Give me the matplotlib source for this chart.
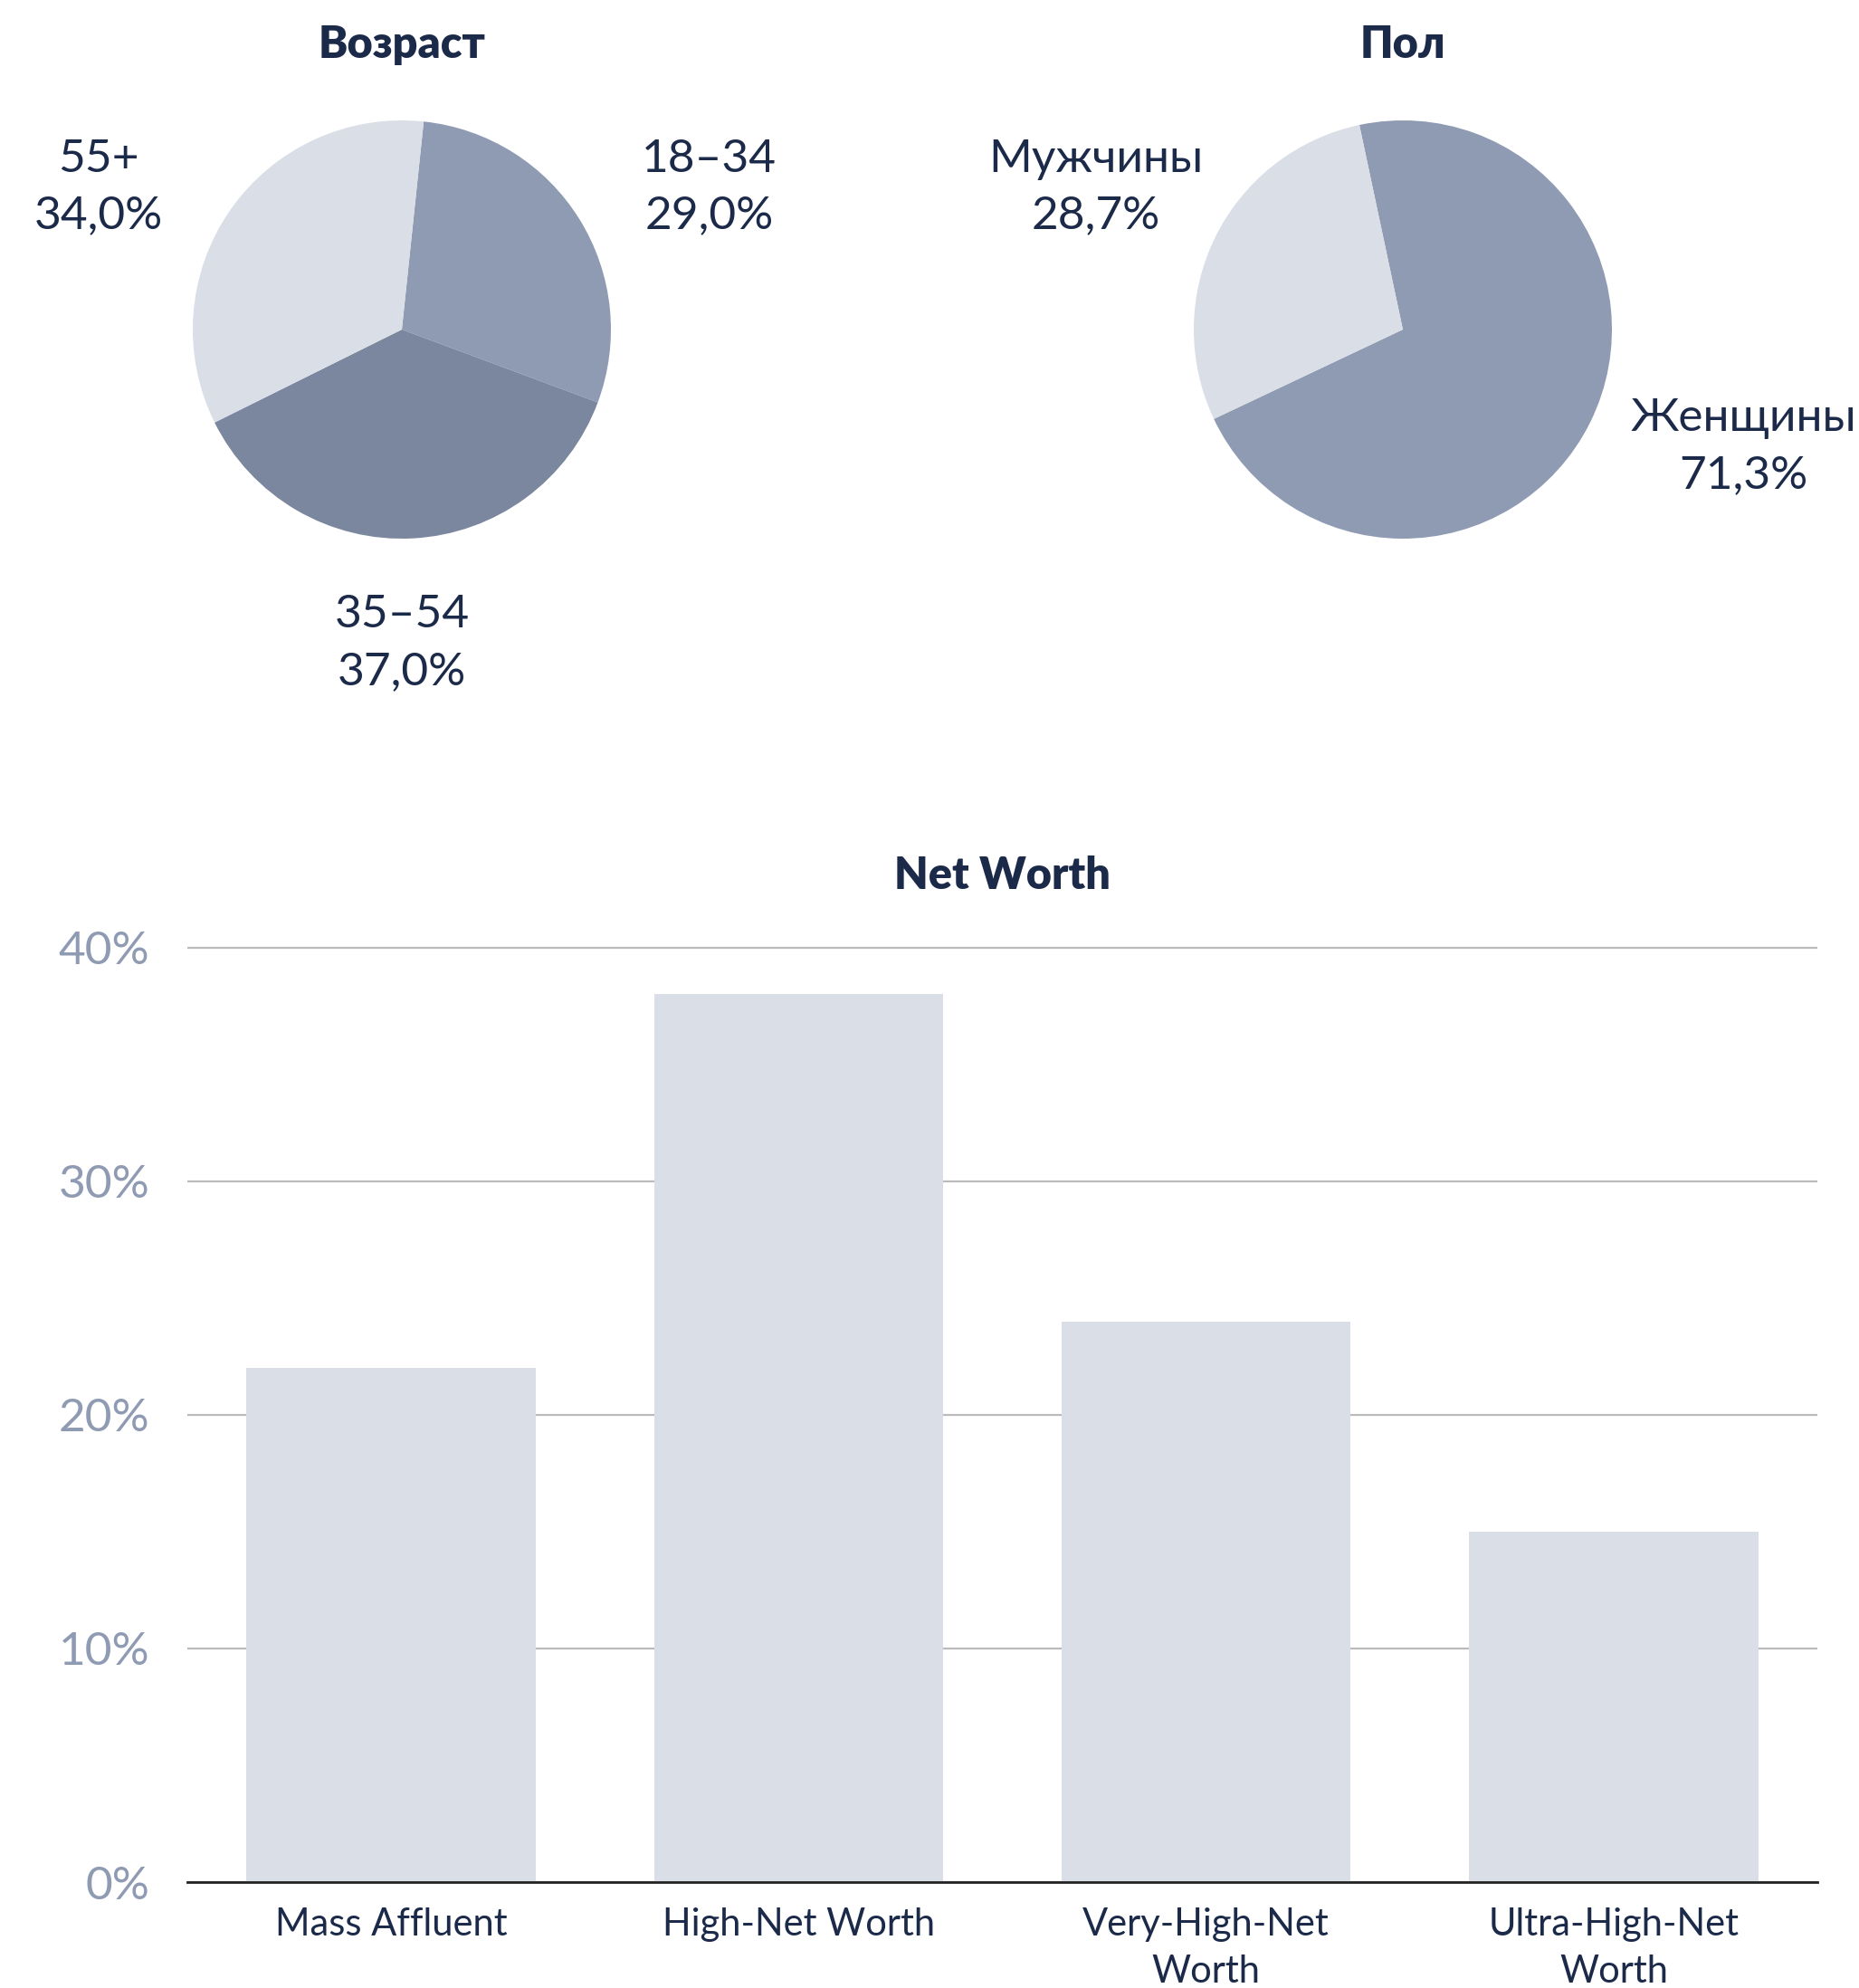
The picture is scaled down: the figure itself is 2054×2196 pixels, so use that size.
import matplotlib.pyplot as plt
from matplotlib.ticker import FuncFormatter

plt.rcParams['font.family'] = ['Lato', 'DejaVu Sans']

# Данные
age_labels = ['18–34', '35–54', '55+']
age_values = [29.0, 37.0, 34.0]
age_colors = ['#8f9bb3', '#7b879e', '#dadee6']

sex_labels = ['Женщины', 'Мужчины']
sex_values = [71.3, 28.7]
sex_colors = ['#8f9bb3', '#dadee6']

nw_categories = ['Mass Affluent', 'High-Net Worth', 'Very-High-Net\nWorth', 'Ultra-High-Net\nWorth']
nw_values = [22, 38, 24, 15]
nw_ticks = [0, 10, 20, 30, 40]

navy = '#1c2a4a'
tick_grey = '#8f9bb3'

W, H = 2054, 2196
fig = plt.figure(figsize=(W / 200, H / 200), dpi=200)


def pie_axes(cx, cy, half=400):
    return fig.add_axes([(cx - half) / W, 1 - (cy + half) / H, 2 * half / W, 2 * half / H])


def fix_limits(ax, r=231, half=400):
    lim = half / r
    ax.set_xlim(-lim, lim)
    ax.set_ylim(-lim, lim)
    ax.set_aspect('equal')
    ax.axis('off')


def fmt_pct(v):
    return f'{v:.1f}'.replace('.', ',') + '%'


# Возраст
ax1 = pie_axes(444, 364)
ax1.pie(age_values, colors=age_colors, startangle=84, counterclock=False,
        radius=1, wedgeprops=dict(linewidth=0))
fix_limits(ax1)
age_pos = [(1.47, 0.68), (0.0, -1.5), (-1.45, 0.68)]
for lab, v, (x, y) in zip(age_labels, age_values, age_pos):
    ax1.text(x, y, f'{lab}\n{fmt_pct(v)}', ha='center', va='center', fontsize=18.5,
             color=navy, linespacing=1.45)
fig.text(444 / W, 1 - 50 / H, 'Возраст', ha='center', va='center', fontsize=17.5,
         fontweight='heavy', color=navy)

# Пол
ax2 = pie_axes(1550, 364)
ax2.pie(sex_values, colors=sex_colors, startangle=102, counterclock=False,
        radius=1, wedgeprops=dict(linewidth=0))
fix_limits(ax2)
sex_pos = [(1.63, -0.56), (-1.47, 0.68)]
for lab, v, (x, y) in zip(sex_labels, sex_values, sex_pos):
    ax2.text(x, y, f'{lab}\n{fmt_pct(v)}', ha='center', va='center', fontsize=18.5,
             color=navy, linespacing=1.45)
fig.text(1550 / W, 1 - 50 / H, 'Пол', ha='center', va='center', fontsize=17.5,
         fontweight='heavy', color=navy)

# Net Worth
ax3 = fig.add_axes([207 / W, 1 - 2079 / H, (2008 - 207) / W, (2079 - 1021) / H])
x = range(len(nw_categories))
ax3.bar(x, nw_values, width=0.71, color='#dadee6', zorder=2)
ax3.set_xlim(-0.5, len(nw_categories) - 0.5)
ax3.set_ylim(0, 41)
ax3.set_yticks(nw_ticks)
ax3.yaxis.set_major_formatter(FuncFormatter(lambda v, p: f'{v:.0f}%'))
ax3.set_xticks(list(x))
ax3.set_xticklabels(nw_categories, fontsize=15, color=navy, linespacing=1.45)
ax3.tick_params(axis='y', length=0, pad=15, labelsize=18.5, labelcolor=tick_grey)
ax3.tick_params(axis='x', length=0, pad=10)
ax3.grid(axis='y', color='#bbbbbb', linewidth=0.8, zorder=0)
ax3.set_axisbelow(True)
for s in ['top', 'right', 'left']:
    ax3.spines[s].set_visible(False)
ax3.spines['bottom'].set_color('#222222')
ax3.spines['bottom'].set_linewidth(1.0)
ax3.spines['bottom'].set_zorder(3)
fig.text(1107 / W, 1 - 967 / H, 'Net Worth', ha='center', va='center', fontsize=17.5,
         fontweight='heavy', color=navy)

fig.savefig('out.png', dpi=200, facecolor='white')
